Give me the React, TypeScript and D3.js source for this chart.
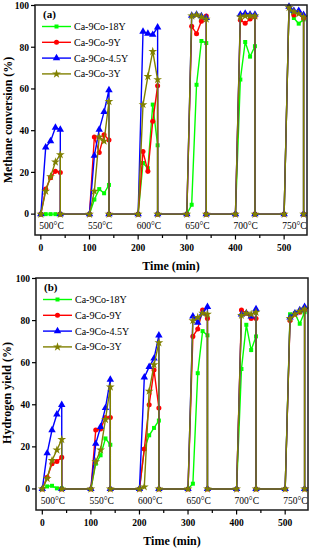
import React from "react";
import * as d3 from "d3";

const TIMES = [0, 10, 20, 30, 40, 40, 100, 110, 120, 130, 140, 140, 200, 210, 220, 230, 240, 240, 300, 310, 320, 330, 340, 340, 400, 410, 420, 430, 440, 440, 500, 510, 520, 530, 540, 540];

const CH4_18Y = [0, 0, 0, 0, 0, 0, 0, 7, 12, 10, 14, 0, 0, 24.5, 22, 52.5, 33, 0, 0, 4.5, 62, 83, 82, 0, 0, 64.5, 82.5, 75.5, 80.5, 0, 0, 99, 94, 91.3, 93.3, 0];
const CH4_9Y = [0, 12, 17.5, 20.5, 20, 0, 0, 37, 29.5, 38, 35.5, 0, 0, 30, 20.5, 44.5, 61.5, 0, 0, 90, 86.5, 92.5, 95, 0, 0, 93, 91.5, 93.5, 94.5, 0, 0, 99, 95.5, 97, 94, 0];
const CH4_45Y = [0, 32, 35, 41.5, 40.5, 0, 0, 28, 40.5, 49, 59.5, 0, 0, 87.5, 86.5, 86, 89.5, 0, 0, 95.2, 95.7, 94.9, 94.1, 0, 0, 95.7, 96.2, 95.7, 95.7, 0, 0, 99.5, 97.5, 97.5, 95.5, 0];
const CH4_3Y = [0, 11, 18, 25, 28.5, 0, 0, 11, 37, 35, 54, 0, 0, 52.5, 66, 78, 64.5, 0, 0, 95, 95.5, 94.5, 93.5, 0, 0, 94.5, 95, 95, 95, 0, 0, 99, 97, 96, 94.5, 0];

const H2_18Y = [0, 1.2, 1.5, 0.3, 0.3, 0, 0, 12, 16, 24, 21, 0, 0, 19, 25.5, 29, 32.5, 0, 0, 2.5, 55, 75, 73, 0, 0, 57, 78, 66, 72.5, 0, 0, 83, 83.5, 78.5, 84, 0];
const H2_9Y = [0, 5.5, 12, 13, 15, 0, 0, 28, 28.5, 34, 34, 0, 0, 19, 40, 56.5, 38.5, 0, 0, 72.5, 76, 85, 81, 0, 0, 85, 83.5, 81, 81, 0, 0, 80, 83, 84, 85.5, 0];
const H2_45Y = [0, 17, 28, 35.5, 40, 0, 0, 21.5, 29.5, 38.5, 52, 0, 0, 53, 58, 62, 73, 0, 0, 82, 79, 83.5, 86.5, 0, 0, 83, 83.5, 82, 85.5, 0, 0, 81.5, 83.5, 85, 86.5, 0];
const H2_3Y = [0, 5, 13.5, 18.5, 23.5, 0, 0, 13, 18.5, 33, 48.5, 0, 0, 1, 46.5, 59, 69.5, 0, 0, 80, 81.5, 83.5, 83, 0, 0, 82.5, 83.5, 83, 84, 0, 0, 81, 83, 84.5, 85.5, 0];

const SERIES_NAMES = ["Ca-9Co-18Y", "Ca-9Co-9Y", "Ca-9Co-4.5Y", "Ca-9Co-3Y"];
const COLORS = ["#00ff00", "#ff0000", "#0000ff", "#808000"];
const SYMBOLS = [d3.symbolSquare, d3.symbolCircle, d3.symbolTriangle, d3.symbolStar];
const SYMBOL_SIZES = [16, 20, 24, 24];

const X_TICKS = [0, 100, 200, 300, 400, 500];
const X_MINOR = [50, 150, 250, 350, 450];
const Y_TICKS = [0, 20, 40, 60, 80, 100];
const TEMP_LABELS = ["500°C", "550°C", "600°C", "650°C", "700°C", "750°C"];
const TEMP_TIMES = [22, 122, 222, 322, 421, 521];

const FONT = "'Liberation Serif', 'Times New Roman', serif";

type PanelProps = {
  tag: string;
  yTitle: string;
  series: number[][];
  left: number;
  right: number;
  top: number;
  bottom: number;
  xDomain: [number, number];
  titleX: number;
  titleY: number;
};

function Panel(p: PanelProps) {
  const x = d3.scaleLinear().domain(p.xDomain).range([p.left, p.right]);
  const y = d3.scaleLinear().domain([-10, 100]).range([p.bottom, p.top + 0.5]);
  const line = d3
    .line<[number, number]>()
    .x((d) => x(d[0]))
    .y((d) => y(d[1]));

  return (
    <g>
      {/* series */}
      {p.series.map((vals, si) => {
        const pts: [number, number][] = TIMES.map((t, i) => [t, vals[i]]);
        const sym = d3.symbol().type(SYMBOLS[si]).size(SYMBOL_SIZES[si])();
        return (
          <g key={si}>
            <path d={line(pts) || ""} fill="none" stroke={COLORS[si]} strokeWidth={1.4} />
            {pts.map((d, i) => (
              <path
                key={i}
                d={sym || ""}
                transform={`translate(${x(d[0])},${y(d[1])})`}
                fill={COLORS[si]}
              />
            ))}
          </g>
        );
      })}

      {/* frame */}
      <rect
        x={p.left}
        y={p.top}
        width={p.right - p.left}
        height={p.bottom - p.top}
        fill="none"
        stroke="#1a1a1a"
        strokeWidth={1.5}
      />

      {/* y ticks */}
      {Y_TICKS.map((t) => (
        <g key={"y" + t}>
          <line x1={p.left - 4} x2={p.left} y1={y(t)} y2={y(t)} stroke="#000" strokeWidth={1.2} />
          <text
            x={p.left - 6}
            y={y(t) + 3.3}
            textAnchor="end"
            fontFamily={FONT}
            fontWeight="bold"
            fontSize={9.5}
          >
            {t}
          </text>
        </g>
      ))}

      {/* x ticks */}
      {X_TICKS.map((t) => (
        <g key={"x" + t}>
          <line x1={x(t)} x2={x(t)} y1={p.bottom} y2={p.bottom + 4.5} stroke="#000" strokeWidth={1.2} />
          <text
            x={x(t)}
            y={p.bottom + 16}
            textAnchor="middle"
            fontFamily={FONT}
            fontWeight="bold"
            fontSize={9.5}
          >
            {t}
          </text>
        </g>
      ))}
      {X_MINOR.map((t) => (
        <line key={"m" + t} x1={x(t)} x2={x(t)} y1={p.bottom} y2={p.bottom + 3} stroke="#000" strokeWidth={1.2} />
      ))}

      {/* temperature labels */}
      {TEMP_LABELS.map((lab, i) => (
        <text
          key={lab}
          x={x(TEMP_TIMES[i])}
          y={p.bottom - 6}
          textAnchor="middle"
          fontFamily={FONT}
          fontSize={9.5}
        >
          {lab}
        </text>
      ))}

      {/* axis titles */}
      <text
        x={(p.left + p.right) / 2}
        y={p.bottom + 35}
        textAnchor="middle"
        fontFamily={FONT}
        fontWeight="bold"
        fontSize={12}
      >
        Time (min)
      </text>
      <text
        transform={`translate(${p.titleX},${p.titleY}) rotate(-90)`}
        textAnchor="middle"
        fontFamily={FONT}
        fontWeight="bold"
        fontSize={12}
      >
        {p.yTitle}
      </text>

      {/* panel tag */}
      <text x={p.left + 8} y={p.top + 12.5} fontFamily={FONT} fontWeight="bold" fontSize={11}>
        {p.tag}
      </text>

      {/* legend */}
      {SERIES_NAMES.map((name, si) => {
        const ly = p.top + 21.5 + si * 15.8;
        const sym = d3.symbol().type(SYMBOLS[si]).size(SYMBOL_SIZES[si])();
        return (
          <g key={name}>
            <line x1={p.left + 7} x2={p.left + 36} y1={ly} y2={ly} stroke={COLORS[si]} strokeWidth={1.4} />
            <path d={sym || ""} transform={`translate(${p.left + 21.5},${ly})`} fill={COLORS[si]} />
            <text x={p.left + 39} y={ly + 3.5} fontFamily={FONT} fontSize={10}>
              {name}
            </text>
          </g>
        );
      })}
    </g>
  );
}

export default function App() {
  return (
    <svg
      width={313}
      height={550}
      style={{ position: "absolute", left: 0, top: 0, background: "#fff" }}
    >
      <rect x={0} y={0} width={313} height={550} fill="#fff" />
      <Panel
        tag="(a)"
        yTitle="Methane conversion (%)"
        series={[CH4_18Y, CH4_9Y, CH4_45Y, CH4_3Y]}
        left={35}
        right={307}
        top={5}
        bottom={235}
        xDomain={[-12, 547]}
        titleX={12}
        titleY={120}
      />
      <Panel
        tag="(b)"
        yTitle="Hydrogen yield (%)"
        series={[H2_18Y, H2_9Y, H2_45Y, H2_3Y]}
        left={36}
        right={308}
        top={278}
        bottom={510}
        xDomain={[-13, 547]}
        titleX={11}
        titleY={393}
      />
    </svg>
  );
}
